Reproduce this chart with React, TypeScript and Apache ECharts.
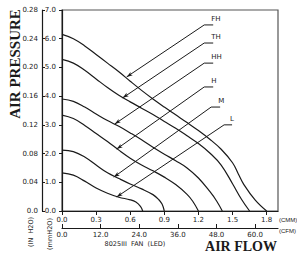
import React, { useEffect, useRef } from "react";
import * as echarts from "echarts";

// Axis tick values
const cmmTicks = [0, 0.3, 0.6, 0.9, 1.2, 1.5, 1.8];
const cfmTicks = [0, 12, 24, 36, 48, 60];
const CFM_PER_CMM = 35.3147;
const CMM_MAX = 1.9;

// Fan curves: [CMM, mmH2O]
const curveFH = [[0, 6.15], [0.1, 6.0], [0.2, 5.75], [0.3, 5.45], [0.4, 5.15], [0.5, 4.85], [0.6, 4.52], [0.7, 4.2], [0.8, 3.9], [0.9, 3.62], [1.0, 3.35], [1.1, 3.08], [1.2, 2.8], [1.3, 2.5], [1.4, 2.15], [1.5, 1.68], [1.55, 1.3], [1.6, 0.92], [1.7, 0.38], [1.8, 0]];
const curveTH = [[0, 5.28], [0.1, 5.15], [0.2, 4.9], [0.3, 4.6], [0.4, 4.3], [0.5, 4.03], [0.6, 3.8], [0.7, 3.58], [0.8, 3.36], [0.9, 3.12], [1.0, 2.88], [1.1, 2.62], [1.2, 2.35], [1.3, 2.02], [1.4, 1.6], [1.5, 0.95], [1.58, 0.4], [1.65, 0]];
const curveHH = [[0, 3.9], [0.1, 3.82], [0.2, 3.62], [0.3, 3.38], [0.4, 3.15], [0.5, 2.95], [0.6, 2.72], [0.7, 2.48], [0.8, 2.22], [0.9, 1.98], [1.0, 1.75], [1.1, 1.5], [1.2, 1.15], [1.3, 0.68], [1.36, 0.35], [1.41, 0]];
const curveH = [[0, 3.34], [0.1, 3.22], [0.2, 2.98], [0.3, 2.7], [0.4, 2.42], [0.5, 2.12], [0.6, 1.84], [0.7, 1.6], [0.8, 1.4], [0.9, 1.18], [1.0, 0.92], [1.1, 0.58], [1.15, 0.34], [1.2, 0]];
const curveM = [[0, 2.12], [0.1, 2.07], [0.2, 1.88], [0.3, 1.6], [0.4, 1.33], [0.5, 1.13], [0.6, 0.94], [0.7, 0.77], [0.8, 0.57], [0.85, 0.4], [0.88, 0.24], [0.9, 0]];
const curveL = [[0, 1.33], [0.1, 1.25], [0.2, 1.04], [0.3, 0.8], [0.4, 0.62], [0.5, 0.48], [0.6, 0.39], [0.65, 0.31], [0.69, 0.16], [0.71, 0]];

// Label pointer lines: [tip on curve, elbow, end of stub]
const pointerFH = [[0.569, 4.67], [1.251, 6.48], [1.33, 6.48]];
const pointerTH = [[0.534, 3.94], [1.251, 5.85], [1.33, 5.85]];
const pointerHH = [[0.464, 3.03], [1.251, 5.15], [1.33, 5.15]];
const pointerH = [[0.481, 2.16], [1.251, 4.32], [1.33, 4.32]];
const pointerM = [[0.455, 1.18], [1.312, 3.62], [1.391, 3.62]];
const pointerL = [[0.481, 0.49], [1.426, 3.0], [1.496, 3.0]];

const curves: [string, number[][], number[][]][] = [
  ["FH", curveFH, pointerFH],
  ["TH", curveTH, pointerTH],
  ["HH", curveHH, pointerHH],
  ["H", curveH, pointerH],
  ["M", curveM, pointerM],
  ["L", curveL, pointerL],
];

const INK = "#1a1a1a";
const SMALL = "DejaVu Sans";

export default function App() {
  const ref = useRef<HTMLDivElement>(null);
  useEffect(() => {
    if (!ref.current) return;
    const chart = echarts.init(ref.current, null, { renderer: "svg" });
    const series: any[] = [];
    curves.forEach(([name, data]) => {
      series.push({
        type: "line",
        name,
        data,
        smooth: 0.4,
        symbol: "none",
        xAxisIndex: 0,
        yAxisIndex: 0,
        lineStyle: { color: INK, width: 1.2 },
        silent: true,
      });
    });
    curves.forEach(([name, , ptr]) => {
      series.push({
        type: "line",
        name: name + "-ptr",
        data: ptr.map((p, i) =>
          i === 0
            ? { value: p, symbol: "arrow", symbolSize: [3, 6], symbolRotate: 124, itemStyle: { color: INK } }
            : { value: p, symbol: "none" }
        ),
        showSymbol: true,
        xAxisIndex: 0,
        yAxisIndex: 0,
        lineStyle: { color: INK, width: 1 },
        silent: true,
        endLabel: {
          show: true,
          formatter: () => name,
          distance: 0,
          offset: [-2, -6],
          fontFamily: SMALL,
          fontSize: 7,
          color: INK,
        },
      });
    });

    const labelStyle = { fontFamily: SMALL, fontSize: 7, color: "#1a1a1a" };
    chart.setOption({
      animation: false,
      backgroundColor: "#fff",
      grid: {
        left: 62,
        top: 10,
        right: 19,
        bottom: 42,
        show: true,
        borderColor: "#555",
        borderWidth: 1.2,
      },
      xAxis: [
        {
          type: "value",
          min: 0,
          max: CMM_MAX,
          position: "bottom",
          axisLine: { show: true, onZero: false, lineStyle: { color: INK, width: 1.2 } },
          axisTick: { show: true, inside: false, length: 4, customValues: cmmTicks, lineStyle: { color: INK } },
          axisLabel: { ...labelStyle, customValues: cmmTicks, margin: 5, formatter: (v: number) => v.toFixed(1) },
          splitLine: { show: false },
        },
        {
          type: "value",
          min: 0,
          max: CMM_MAX * CFM_PER_CMM,
          position: "bottom",
          offset: 17,
          axisLine: { show: true, onZero: false, lineStyle: { color: INK, width: 1.2 } },
          axisTick: { show: true, inside: true, length: 4, customValues: cfmTicks, lineStyle: { color: INK } },
          axisLabel: { ...labelStyle, customValues: cfmTicks, margin: 3, formatter: (v: number) => v.toFixed(1) },
          splitLine: { show: false },
        },
      ],
      yAxis: [
        {
          type: "value",
          min: 0,
          max: 7,
          interval: 1,
          position: "left",
          axisLine: { show: true, onZero: false, lineStyle: { color: INK, width: 1.2 } },
          axisTick: { show: true, inside: false, length: 3, lineStyle: { color: INK } },
          axisLabel: { ...labelStyle, margin: 6, formatter: (v: number) => v.toFixed(1) },
          splitLine: { show: false },
        },
        {
          type: "value",
          min: 0,
          max: 28,
          interval: 4,
          position: "left",
          offset: 20,
          axisLine: { show: true, onZero: false, lineStyle: { color: INK, width: 1.2 } },
          axisTick: { show: true, inside: true, length: 3, lineStyle: { color: INK } },
          axisLabel: {
            ...labelStyle,
            margin: 4,
            formatter: (v: number) => (v === 0 ? "0.0" : (v / 100).toFixed(2)),
          },
          splitLine: { show: false },
        },
      ],
      graphic: [
        {
          type: "text",
          x: 15,
          y: 64,
          rotation: Math.PI / 2,
          style: { text: "AIR PRESSURE", font: 'bold 15px "Liberation Serif"', fill: INK, align: "center", verticalAlign: "middle" },
        },
        {
          type: "text",
          x: 241,
          y: 246,
          style: { text: "AIR FLOW", font: 'bold 14px "Liberation Serif"', fill: INK, align: "center", verticalAlign: "middle" },
        },
        {
          type: "text",
          x: 279,
          y: 220,
          style: { text: "(CMM)", font: '6px "Liberation Sans"', fill: INK, align: "left", verticalAlign: "middle" },
        },
        {
          type: "text",
          x: 279,
          y: 231,
          style: { text: "(CFM)", font: '6px "Liberation Sans"', fill: INK, align: "left", verticalAlign: "middle" },
        },
        {
          type: "text",
          x: 135,
          y: 244,
          style: { text: "8025III  FAN  (LED)", font: '6.5px "DejaVu Sans"', fill: INK, align: "center", verticalAlign: "middle" },
        },
        {
          type: "text",
          x: 31,
          y: 232,
          rotation: Math.PI / 2,
          style: { text: "(IN  H2O)", font: '6.5px "DejaVu Sans"', fill: INK, align: "center", verticalAlign: "middle" },
        },
        {
          type: "text",
          x: 50,
          y: 234,
          rotation: Math.PI / 2,
          style: { text: "(mmH2O)", font: '6.5px "DejaVu Sans"', fill: INK, align: "center", verticalAlign: "middle" },
        },
      ],
      series,
    });
    return () => chart.dispose();
  }, []);
  return (
    <div
      ref={ref}
      style={{ position: "fixed", left: 0, top: 0, width: 297, height: 253, background: "#fff" }}
    />
  );
}
